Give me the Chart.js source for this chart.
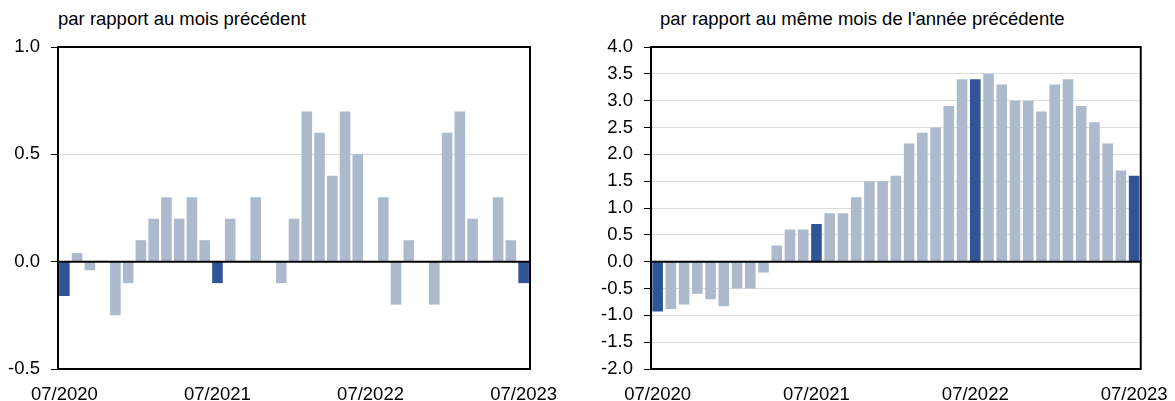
<!DOCTYPE html>
<html>
<head>
<meta charset="utf-8">
<script src="https://cdn.jsdelivr.net/npm/chart.js@4"></script>
<style>
  body { margin: 0; background: #fff; width: 1175px; height: 401px; overflow: hidden; font-family: "Liberation Sans", Arial, sans-serif; }
  .box { position: absolute; top: 0; height: 401px; }
  .title { position: absolute; top: 8px; font-size: 18.5px; color: #000; white-space: nowrap; }
</style>
</head>
<body>
<div class="title" style="left:58px">par rapport au mois précédent</div>
<div class="title" style="left:660px">par rapport au même mois de l'année précédente</div>
<div class="box" style="left:0; width:575px"><canvas id="chartMom"></canvas></div>
<div class="box" style="left:575px; width:600px"><canvas id="chartYoy"></canvas></div>
<script>
// months 07/2020 .. 07/2023
const months = [];
for (let y = 2020; y <= 2023; y++) {
  for (let m = 1; m <= 12; m++) {
    if ((y === 2020 && m < 7) || (y === 2023 && m > 7)) continue;
    months.push(String(m).padStart(2, "0") + "/" + y);
  }
}
const tickLabels = ["07/2020", "07/2021", "07/2022", "07/2023"];

// variation par rapport au mois précédent (%)
const momValues = [
  -0.16, 0.04, -0.04, 0.005, -0.25, -0.1, 0.1, 0.2, 0.3, 0.2, 0.3, 0.1,
  -0.1, 0.2, 0.0, 0.3, 0.0, -0.1, 0.2, 0.7, 0.6, 0.4, 0.7, 0.5,
  0.0, 0.3, -0.2, 0.1, 0.0, -0.2, 0.6, 0.7, 0.2, 0.0, 0.3, 0.1,
  -0.1
];
// variation par rapport au même mois de l'année précédente (%)
const yoyValues = [
  -0.93, -0.88, -0.8, -0.6, -0.7, -0.83, -0.5, -0.5, -0.2, 0.3, 0.6, 0.6,
  0.7, 0.9, 0.9, 1.2, 1.5, 1.5, 1.6, 2.2, 2.4, 2.5, 2.9, 3.4,
  3.4, 3.5, 3.3, 3.0, 3.0, 2.8, 3.3, 3.4, 2.9, 2.6, 2.2, 1.7,
  1.6
];

const lightBar = "#adb9cc";
const darkBar = "#2f5597";
const barColors = months.map(m => m.startsWith("07/") ? darkBar : lightBar);
const font = { family: "'Liberation Sans', Arial, sans-serif", size: 18.5 };

// black frame round the plot area
const framePlugin = {
  id: "frame",
  afterDatasetsDraw(chart) {
    const a = chart.chartArea, c = chart.ctx;
    c.save();
    c.strokeStyle = "#000";
    c.lineWidth = 2;
    c.strokeRect(a.left, a.top, a.right - a.left, a.bottom - a.top);
    // zero line on top of bars
    const y0 = chart.scales.y.getPixelForValue(0);
    c.beginPath();
    c.moveTo(a.left, y0);
    c.lineTo(a.right, y0);
    c.stroke();
    c.restore();
  }
};

function makeChart(id, values, min, max, step, yWidth, padRight, barPct) {
  return new Chart(document.getElementById(id), {
    type: "bar",
    data: {
      labels: months,
      datasets: [{
        data: values,
        backgroundColor: barColors,
        barPercentage: barPct,
        categoryPercentage: 1.0,
      }],
    },
    options: {
      responsive: true,
      maintainAspectRatio: false,
      animation: false,
      layout: { padding: { top: 47, right: padRight, left: 0, bottom: 0 } },
      plugins: { legend: { display: false }, tooltip: { enabled: false } },
      scales: {
        x: {
          grid: { display: false },
          border: { display: false },
          afterFit: s => { s.height = 32; },
          ticks: {
            autoSkip: false,
            maxRotation: 0,
            padding: 7,
            color: "#000",
            font: font,
            callback: function (v) {
              const l = this.getLabelForValue(v);
              return tickLabels.includes(l) ? l : "";
            },
          },
        },
        y: {
          min: min,
          max: max,
          afterFit: s => { s.width = yWidth; },
          border: { display: false },
          grid: {
            color: "#dcdcdc",
            lineWidth: 1,
            tickColor: "#000",
            tickLength: 7,
          },
          ticks: {
            stepSize: step,
            padding: 11,
            color: "#000",
            font: font,
            callback: v => Number(v).toFixed(1),
          },
        },
      },
    },
    plugins: [framePlugin],
  });
}

makeChart("chartMom", momValues, -0.5, 1.0, 0.5, 58, 45, 0.83);
makeChart("chartYoy", yoyValues, -2.0, 4.0, 0.5, 76, 32, 0.8);
</script>
</body>
</html>
